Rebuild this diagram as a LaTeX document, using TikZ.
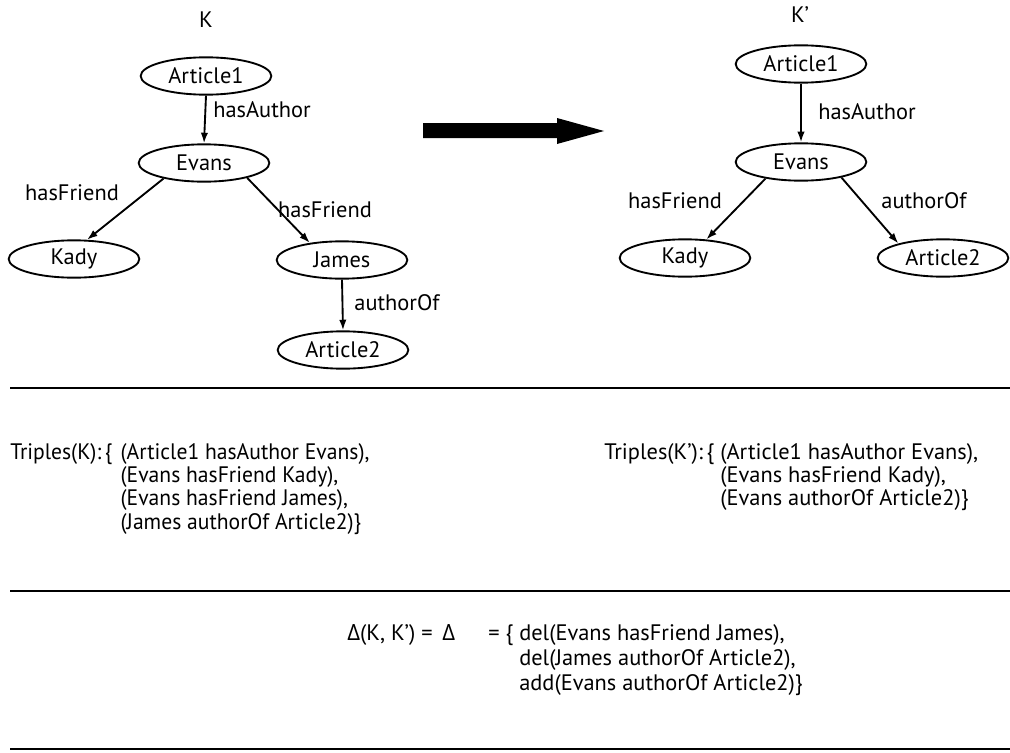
\documentclass[tikz,border=0pt]{standalone}
\usepackage{fontspec}
\setmainfont{PT Sans}
\newfontfamily\greekfont{Open Sans}
\usetikzlibrary{shapes.geometric,arrows.meta}
\newcommand\Dlt{{\greekfont Δ}}

\begin{document}
\begin{tikzpicture}[x=0.75pt,y=-0.75pt,
  every node/.style={font=\fontsize{16.8}{17.6}\selectfont},
  entity/.style={draw, ellipse, line width=1.4pt, minimum width=98pt,
                 minimum height=28pt, inner sep=0pt},
  rel/.style={-{Latex[length=8pt,width=5.5pt]}, line width=1.4pt},
  lbl/.style={inner sep=0pt},
  rule/.style={line width=2pt},
  block/.style={inner sep=0pt, anchor=base west},
]
\useasboundingbox (0,0) rectangle (1010,753);

% ---- graph K ----
\node[lbl] (kname) at (206,20) {K};
\node[entity] (a1L) at (206,76)  {Article1};
\node[entity] (evL) at (204,163) {Evans};
\node[entity] (kaL) at (74,259)  {Kady};
\node[entity] (jaL) at (342,260) {James};
\node[entity] (a2L) at (343,350) {Article2};

\draw[rel] (a1L.south) -- (evL.north);
\draw[rel] (evL.201) -- (kaL.56);
\draw[rel] (evL.-19) -- (jaL.152);
\draw[rel] (jaL.south) -- (a2L.north);

\node[lbl] (hAL) at (262,110) {hasAuthor};
\node[lbl] (hF1L) at (72,193) {hasFriend};
\node[lbl] (hF2L) at (325,210) {hasFriend};
\node[lbl] (aOL) at (397,303) {authorOf};

% ---- transformation arrow ----
\fill (423,123) -- (557,123) -- (557,118) -- (604,131) -- (557,144)
      -- (557,138) -- (423,138) -- cycle;

% ---- graph K' ----
\node[lbl] (kpname) at (800,15) {K’};
\node[entity] (a1R) at (801,64)  {Article1};
\node[entity] (evR) at (801,162) {Evans};
\node[entity] (kaR) at (685,258) {Kady};
\node[entity] (a2R) at (943,258) {Article2};

\draw[rel] (a1R.south) -- (evR.north);
\draw[rel] (evR.205) -- (kaR.41);
\draw[rel] (evR.-21) -- (a2R.162);

\node[lbl] (hAR) at (867,112) {hasAuthor};
\node[lbl] (hFR) at (675,201) {hasFriend};
\node[lbl] (aOR) at (924,201) {authorOf};

% ---- separators ----
\draw[rule] (10,388) -- (1010,388);
\draw[rule] (10,591) -- (1010,591);
\draw[rule] (10,749) -- (1010,749);

% ---- triple sets ----
\node[block] (tK) at (10,459) {\scalebox{0.965}[1]{\begin{tabular}[t]{@{}l@{ }l@{}}
  Triples(K):\,\{\hspace{2pt} & (Article1 hasAuthor Evans),\\
                  & (Evans hasFriend Kady),\\
                  & (Evans hasFriend James),\\
                  & (James authorOf Article2)\}
\end{tabular}}};
\node[block] (tKp) at (604,459) {\begin{tabular}[t]{@{}l@{ }l@{}}
  Triples(K’):\,\{ & (Article1 hasAuthor Evans),\\
                   & (Evans hasFriend Kady),\\
                   & (Evans authorOf Article2)\}
\end{tabular}};

% ---- delta ----
\node[block] (dl) at (347,640) {\Dlt(K, K’) = \,\Dlt};
\node[block] (dr) at (488,640) {\fontsize{16.8}{18.8}\selectfont\begin{tabular}[t]{@{}l@{ }l@{}}
  = \{ & del(Evans hasFriend James),\\
       & del(James authorOf Article2),\\
       & add(Evans authorOf Article2)\}
\end{tabular}};
\end{tikzpicture}
\end{document}
